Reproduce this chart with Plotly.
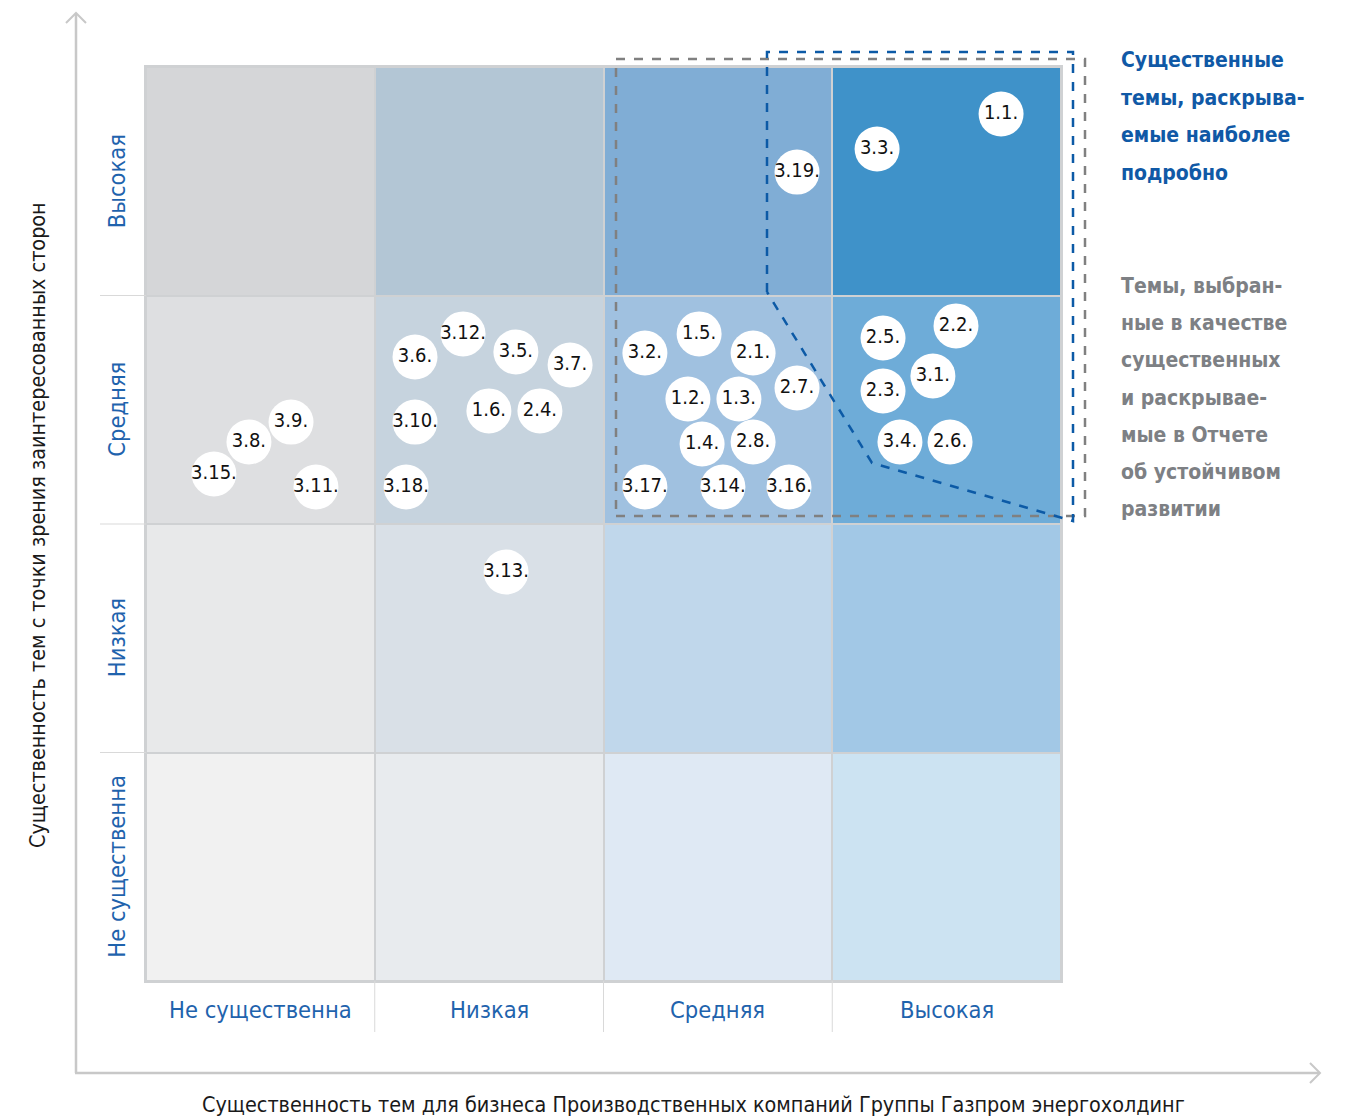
import plotly.graph_objects as go

# ---------------- data ----------------
col_labels = ["Не существенна", "Низкая", "Средняя", "Высокая"]
row_labels = ["Не существенна", "Низкая", "Средняя", "Высокая"]  # bottom -> top

# cell colours, rows bottom -> top, columns left -> right
cell_colors = [
    ["#f1f1f1", "#e8ebee", "#dfe9f4", "#cce3f2"],
    ["#e8e9ea", "#d9e0e7", "#c0d7eb", "#a2c8e6"],
    ["#dedfe1", "#c6d3de", "#a0c1e0", "#6eacd8"],
    ["#d5d6d8", "#b3c6d5", "#80add5", "#3f92c9"],
]

topic_labels = ["1.1.", "3.3.", "3.19.", "2.2.", "2.5.", "3.1.", "2.3.", "3.4.", "2.6.",
                "3.2.", "1.5.", "2.1.", "2.7.", "1.2.", "1.3.", "1.4.", "2.8.",
                "3.17.", "3.14.", "3.16.", "3.6.", "3.12.", "3.5.", "3.7.", "3.10.",
                "1.6.", "2.4.", "3.18.", "3.9.", "3.8.", "3.15.", "3.11.", "3.13."]
# materiality for business (x, 0..4) and for stakeholders (y, 0..4)
topic_x = [3.738, 3.196, 2.846, 3.541, 3.222, 3.440, 3.222, 3.296, 3.515,
           2.181, 2.418, 2.654, 2.846, 2.369, 2.592, 2.431, 2.654,
           2.181, 2.522, 2.811, 1.176, 1.386, 1.617, 1.854, 1.176,
           1.499, 1.722, 1.137, 0.634, 0.450, 0.297, 0.743, 1.574]
topic_y = [3.794, 3.641, 3.540, 2.867, 2.814, 2.648, 2.582, 2.359, 2.359,
           2.748, 2.832, 2.748, 2.595, 2.547, 2.547, 2.350, 2.359,
           2.162, 2.162, 2.162, 2.731, 2.832, 2.753, 2.696, 2.446,
           2.495, 2.495, 2.162, 2.446, 2.359, 2.219, 2.162, 1.790]

x_title = "Существенность тем для бизнеса Производственных компаний Группы Газпром энергохолдинг"
y_title = "Существенность тем с точки зрения заинтересованных сторон"
blue_note = ["Существенные", "темы, раскрыва-", "емые наиболее", "подробно"]
gray_note = ["Темы, выбран-", "ные в качестве", "существенных", "и раскрывае-",
             "мые в Отчете", "об устойчивом", "развитии"]

# ---------------- geometry helpers (window pixel -> data) ----------------
OFF = 8                      # page body margin
W, H = 1345 - OFF, 1117 - OFF
X0PX, UX = 146.0, 228.75     # px of x=0, px per unit
Y0PX, UY = 981.0, 228.5      # px of y=0, px per unit


def px2x(px):
    return (px - X0PX) / UX


def px2y(py):
    return (Y0PX - py) / UY


FONT = "'Liberation Sans Narrow', 'DejaVu Sans Condensed', 'Roboto Condensed', 'Arial Narrow', Roboto, sans-serif"
BLUE = "#1f63ad"
GRID = "#cfd1d3"
AXIS = "#c8c8c8"

fig = go.Figure()

# heatmap of cells with discrete colourscale
flat = [c for row in cell_colors for c in row]
n = len(flat)
cscale = []
for k, c in enumerate(flat):
    cscale.append([k / n, c])
    cscale.append([(k + 1) / n, c])
z = [[r * 4 + c for c in range(4)] for r in range(4)]
fig.add_trace(go.Heatmap(
    x=[0.5, 1.5, 2.5, 3.5], y=[0.5, 1.5, 2.5, 3.5], z=z,
    colorscale=cscale, zmin=-0.5, zmax=n - 0.5, showscale=False,
    xgap=2, ygap=2, hoverinfo="skip"))

# topic bubbles
fig.add_trace(go.Scatter(
    x=topic_x, y=topic_y, mode="markers+text", text=topic_labels,
    textposition="middle center",
    textfont=dict(family=FONT, size=20, color="#111111"),
    marker=dict(size=45, color="white", line=dict(width=0)),
    hoverinfo="skip", cliponaxis=False))

shapes = []
# frame behind the heatmap (shows in the gaps)
shapes.append(dict(type="rect", layer="below", xref="x", yref="y",
                   x0=px2x(144), x1=px2x(1063), y0=px2y(983), y1=px2y(65),
                   fillcolor=GRID, line=dict(width=0)))
# row separators to the left of grid
for k in range(1, 4):
    shapes.append(dict(type="line", xref="x", yref="y", x0=px2x(100), x1=0,
                       y0=k, y1=k, line=dict(color="#d9d9d9", width=1)))
# column separators below grid
for k in range(1, 4):
    shapes.append(dict(type="line", xref="x", yref="y", x0=k, x1=k,
                       y0=0, y1=px2y(1032), line=dict(color="#d9d9d9", width=1)))
# axis arrows
shapes.append(dict(type="line", xref="x", yref="y", x0=px2x(76), x1=px2x(76),
                   y0=px2y(1073), y1=px2y(13), line=dict(color=AXIS, width=2.5)))
shapes.append(dict(type="line", xref="x", yref="y", x0=px2x(75), x1=px2x(1319),
                   y0=px2y(1073), y1=px2y(1073), line=dict(color=AXIS, width=2.5)))
shapes.append(dict(type="path", xref="x", yref="y",
                   path=f"M{px2x(66)},{px2y(23)} L{px2x(76)},{px2y(13)} L{px2x(86)},{px2y(23)}",
                   line=dict(color=AXIS, width=2)))
shapes.append(dict(type="path", xref="x", yref="y",
                   path=f"M{px2x(1310)},{px2y(1063)} L{px2x(1320)},{px2y(1073)} L{px2x(1310)},{px2y(1083)}",
                   line=dict(color=AXIS, width=2)))
# grey dashed rectangle (topics disclosed in the report)
shapes.append(dict(type="rect", xref="x", yref="y",
                   x0=px2x(616), x1=px2x(1085), y0=px2y(516), y1=px2y(59),
                   line=dict(color="#808080", width=2.5, dash="dash")))
# blue dashed outline (most detailed topics)
bp = [(767, 292), (767, 52), (1073, 52), (1073, 521), (872, 463), (767, 292)]
path = "M" + " L".join(f"{px2x(a)},{px2y(b)}" for a, b in bp)
shapes.append(dict(type="path", xref="x", yref="y", path=path,
                   line=dict(color="#0c5aa6", width=2.5, dash="dash")))

annotations = []
# column labels
for i, t in enumerate(col_labels):
    annotations.append(dict(x=i + 0.5, y=px2y(1010), xref="x", yref="y", text=t,
                            showarrow=False, xanchor="center", yanchor="middle",
                            font=dict(family=FONT, size=23.5, color=BLUE)))
# row labels (rotated)
for i, t in enumerate(row_labels):
    annotations.append(dict(x=px2x(117), y=i + 0.5, xref="x", yref="y", text=t,
                            textangle=-90, showarrow=False, xanchor="center",
                            yanchor="middle",
                            font=dict(family=FONT, size=23.5, color=BLUE)))
# axis titles
annotations.append(dict(x=px2x(693), y=px2y(1104), xref="x", yref="y", text=x_title,
                        showarrow=False, xanchor="center", yanchor="middle",
                        font=dict(family=FONT, size=21.4, color="#1a1a1a")))
annotations.append(dict(x=px2x(37), y=px2y(525), xref="x", yref="y", text=y_title,
                        textangle=-90, showarrow=False, xanchor="center", yanchor="middle",
                        font=dict(family=FONT, size=21.4, color="#1a1a1a")))
# side notes
for i, t in enumerate(blue_note):
    annotations.append(dict(x=px2x(1119), y=px2y(60 + i * 37.5), xref="x", yref="y",
                            text=f"<b>{t}</b>", showarrow=False, xanchor="left",
                            yanchor="middle",
                            font=dict(family=FONT, size=21, color="#1059a6")))
for i, t in enumerate(gray_note):
    annotations.append(dict(x=px2x(1119), y=px2y(286 + i * 37.2), xref="x", yref="y",
                            text=f"<b>{t}</b>", showarrow=False, xanchor="left",
                            yanchor="middle",
                            font=dict(family=FONT, size=21, color="#7d8084")))

fig.update_layout(
    width=W, height=H,
    margin=dict(l=0, r=0, t=0, b=0, pad=0),
    paper_bgcolor="white", plot_bgcolor="white",
    showlegend=False,
    xaxis=dict(range=[px2x(OFF), px2x(OFF + W)], visible=False, fixedrange=True),
    yaxis=dict(range=[px2y(OFF + H), px2y(OFF)], visible=False, fixedrange=True),
    shapes=shapes, annotations=annotations,
)

fig.write_html("out.html", config={"displayModeBar": False})
